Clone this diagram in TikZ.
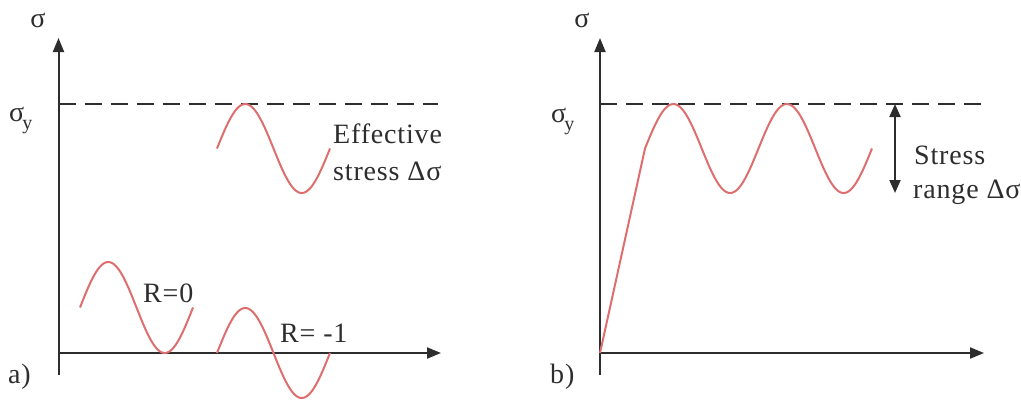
\documentclass[tikz,border=0pt]{standalone}
\usepackage{fontspec}
\setmainfont[LetterSpace=3]{Liberation Serif}
\usetikzlibrary{arrows.meta}
\definecolor{axisgray}{RGB}{45,45,45}
\definecolor{curvered}{RGB}{222,110,110}
\tikzset{
  axisline/.style={draw=axisgray,line width=2pt,-{Triangle[length=14pt,width=11pt]}},
  limitline/.style={draw=axisgray,line width=2pt,dash pattern=on 17pt off 9pt},
  wave/.style={draw=curvered,line width=2pt},
  rangearrow/.style={draw=axisgray,line width=2pt,{Triangle[length=13pt,width=11pt]}-{Triangle[length=13pt,width=11pt]}},
  lbl/.style={inner sep=0pt,font=\fontsize{28}{34}\selectfont,text=axisgray},
}
\newcommand{\sigy}{σ\kern-2pt\raisebox{-0.3em}{\fontsize{20}{20}\selectfont y}}
\begin{document}
\begin{tikzpicture}[x=1pt,y=-1pt]
\useasboundingbox (0,0) rectangle (1021,400);
% ---------- panel a ----------
\coordinate (aO) at (58.5,353);
\coordinate (aBot) at (58.5,375);
\coordinate (aTop) at (58.5,38);
\coordinate (aRight) at (441,353);
\coordinate (aDs) at (58.5,104);
\coordinate (aDe) at (438,104);
\draw[axisline] (aBot) -- (aTop);
\draw[axisline] (aO) -- (aRight);
\draw[limitline] (aDs) -- (aDe);
\draw[wave] plot[domain=217:330,samples=80,smooth] (\x,{148.5-44.5*sin(3.1858*(\x-217))});
\draw[wave] plot[domain=80:193,samples=80,smooth] (\x,{307.5-45.5*sin(3.1858*(\x-80))});
\draw[wave] plot[domain=217:330,samples=80,smooth] (\x,{353-45*sin(3.1858*(\x-217))});
\node[lbl,anchor=base] (asig) at (38,27) {σ};
\node[lbl,anchor=base west] (asigy) at (9,121) {\sigy};
\node[lbl,anchor=base west] (eff1) at (333,143) {Effective};
\node[lbl,anchor=base west] (eff2) at (333,180) {stress Δσ};
\node[lbl,anchor=base west] (r0) at (143,302) {R=0};
\node[lbl,anchor=base west] (r1) at (280,342) {R= -1};
\node[lbl,anchor=base west] (alab) at (8,383) {a)};
% ---------- panel b ----------
\coordinate (bO) at (600,353);
\coordinate (bBot) at (600,375);
\coordinate (bTop) at (600,38);
\coordinate (bRight) at (984,353);
\coordinate (bDs) at (600,104);
\coordinate (bDe) at (981,104);
\coordinate (bKnee) at (645,148.5);
\coordinate (rTop) at (895,104);
\coordinate (rBot) at (895,193);
\draw[axisline] (bBot) -- (bTop);
\draw[axisline] (bO) -- (bRight);
\draw[limitline] (bDs) -- (bDe);
\draw[wave] (bO) -- (bKnee) -- plot[domain=645:872,samples=150,smooth] (\x,{148.5-44.5*sin(3.1718*(\x-645))});
\draw[rangearrow] (rTop) -- (rBot);
\node[lbl,anchor=base] (bsig) at (582,27) {σ};
\node[lbl,anchor=base west] (bsigy) at (551,122) {\sigy};
\node[lbl,anchor=base west] (sr1) at (914,164) {Stress};
\node[lbl,anchor=base west] (sr2) at (913,198) {range Δσ};
\node[lbl,anchor=base west] (blab) at (550,383) {b)};
\end{tikzpicture}
\end{document}
